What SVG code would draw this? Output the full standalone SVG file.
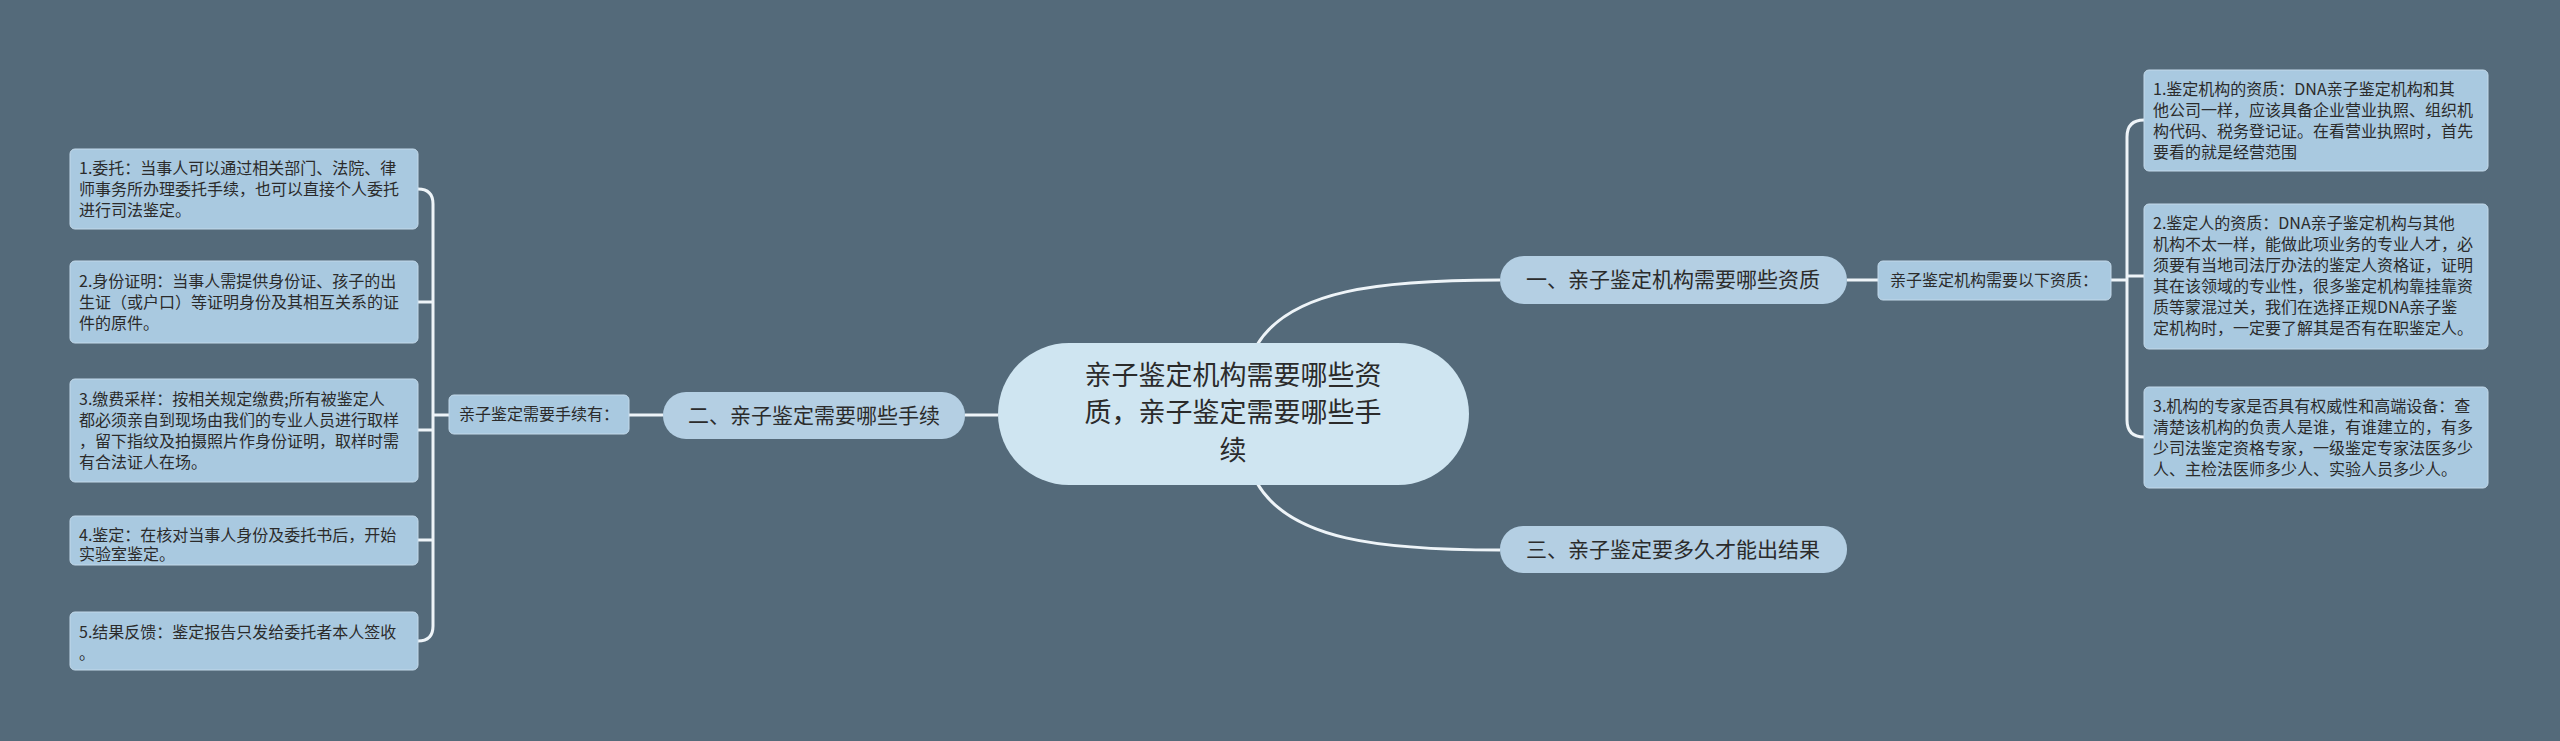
<svg xmlns="http://www.w3.org/2000/svg" width="2560" height="741" viewBox="0 0 2560 741">
<style>
text{font-family:"Noto Sans CJK SC","Liberation Sans",sans-serif;fill:#2b2b2b}
.leaf{fill:#a9c9e0;stroke:#c3d9ea;stroke-width:1}
.topic{fill:#b4cfe3}
.root{fill:#cfe5f1}
.c{fill:none;stroke:#eef4f8;stroke-width:3}
.lt{font-size:16px}
.tt{font-size:21px;text-anchor:middle}
.rt{font-size:27px;text-anchor:middle}
.st{font-size:16px;text-anchor:middle}
</style>
<rect width="2560" height="741" fill="#546a7a"/>
<g id="connectors">
<path class="c" d="M1257,345 C1290,290 1380,280 1500,280"/>
<path class="c" d="M965,415 L998,415"/>
<path class="c" d="M1257,483 C1290,540 1380,550 1500,550"/>
<path class="c" d="M1847,280 L1878,280"/>
<path class="c" d="M2111,280 L2127,280 M2144,120 Q2127,120 2127,137 L2127,420 Q2127,437 2144,437 M2127,276 L2144,276"/>
<path class="c" d="M663,415 L629,415"/>
<path class="c" d="M449,415 L433,415 M418,189 Q433,189 433,204 L433,626 Q433,641 418,641 M418,302 L433,302 M418,430 L433,430 M418,540 L433,540"/>
</g>
<g id="root"><rect class="root" x="998" y="343" width="471" height="142" rx="71"/>
<text class="rt" x="1233" y="385">亲子鉴定机构需要哪些资</text>
<text class="rt" x="1233" y="422">质，亲子鉴定需要哪些手</text>
<text class="rt" x="1233" y="460">续</text></g>
<g id="t1"><rect class="topic" x="1500" y="256" width="347" height="48" rx="24"/><text class="tt" x="1673" y="287">一、亲子鉴定机构需要哪些资质</text></g>
<g id="t2"><rect class="topic" x="663" y="392" width="302" height="47" rx="23"/><text class="tt" x="814" y="423">二、亲子鉴定需要哪些手续</text></g>
<g id="t3"><rect class="topic" x="1500" y="526" width="347" height="47" rx="23"/><text class="tt" x="1673" y="557">三、亲子鉴定要多久才能出结果</text></g>
<g id="s1"><rect class="leaf" x="1878" y="261" width="233" height="39" rx="5"/><text class="st" x="1994" y="286">亲子鉴定机构需要以下资质：</text></g>
<g id="s2"><rect class="leaf" x="449" y="395" width="180" height="39" rx="5"/><text class="st" x="539" y="420">亲子鉴定需要手续有：</text></g>
<g id="r1"><rect class="leaf" x="2144" y="70" width="344" height="101" rx="5"/>
<text class="lt" x="2153" y="95">1.鉴定机构的资质：DNA亲子鉴定机构和其</text>
<text class="lt" x="2153" y="116">他公司一样，应该具备企业营业执照、组织机</text>
<text class="lt" x="2153" y="137">构代码、税务登记证。在看营业执照时，首先</text>
<text class="lt" x="2153" y="158">要看的就是经营范围</text></g>
<g id="r2"><rect class="leaf" x="2144" y="204" width="344" height="145" rx="5"/>
<text class="lt" x="2153" y="229">2.鉴定人的资质：DNA亲子鉴定机构与其他</text>
<text class="lt" x="2153" y="250">机构不太一样，能做此项业务的专业人才，必</text>
<text class="lt" x="2153" y="271">须要有当地司法厅办法的鉴定人资格证，证明</text>
<text class="lt" x="2153" y="292">其在该领域的专业性，很多鉴定机构靠挂靠资</text>
<text class="lt" x="2153" y="313">质等蒙混过关，我们在选择正规DNA亲子鉴</text>
<text class="lt" x="2153" y="334">定机构时，一定要了解其是否有在职鉴定人。</text></g>
<g id="r3"><rect class="leaf" x="2144" y="387" width="344" height="101" rx="5"/>
<text class="lt" x="2153" y="412">3.机构的专家是否具有权威性和高端设备：查</text>
<text class="lt" x="2153" y="433">清楚该机构的负责人是谁，有谁建立的，有多</text>
<text class="lt" x="2153" y="454">少司法鉴定资格专家，一级鉴定专家法医多少</text>
<text class="lt" x="2153" y="475">人、主检法医师多少人、实验人员多少人。</text></g>
<g id="l1"><rect class="leaf" x="70" y="149" width="348" height="80" rx="5"/>
<text class="lt" x="79" y="174">1.委托：当事人可以通过相关部门、法院、律</text>
<text class="lt" x="79" y="195">师事务所办理委托手续，也可以直接个人委托</text>
<text class="lt" x="79" y="216">进行司法鉴定。</text></g>
<g id="l2"><rect class="leaf" x="70" y="261" width="348" height="82" rx="5"/>
<text class="lt" x="79" y="287">2.身份证明：当事人需提供身份证、孩子的出</text>
<text class="lt" x="79" y="308">生证（或户口）等证明身份及其相互关系的证</text>
<text class="lt" x="79" y="329">件的原件。</text></g>
<g id="l3"><rect class="leaf" x="70" y="379" width="348" height="103" rx="5"/>
<text class="lt" x="79" y="405">3.缴费采样：按相关规定缴费;所有被鉴定人</text>
<text class="lt" x="79" y="426">都必须亲自到现场由我们的专业人员进行取样</text>
<text class="lt" x="79" y="447">，留下指纹及拍摄照片作身份证明，取样时需</text>
<text class="lt" x="79" y="468">有合法证人在场。</text></g>
<g id="l4"><rect class="leaf" x="70" y="516" width="348" height="49" rx="5"/>
<text class="lt" x="79" y="541">4.鉴定：在核对当事人身份及委托书后，开始</text>
<text class="lt" x="79" y="560">实验室鉴定。</text></g>
<g id="l5"><rect class="leaf" x="70" y="612" width="348" height="58" rx="5"/>
<text class="lt" x="79" y="638">5.结果反馈：鉴定报告只发给委托者本人签收</text>
<text class="lt" x="79" y="659">。</text></g>
</svg>
